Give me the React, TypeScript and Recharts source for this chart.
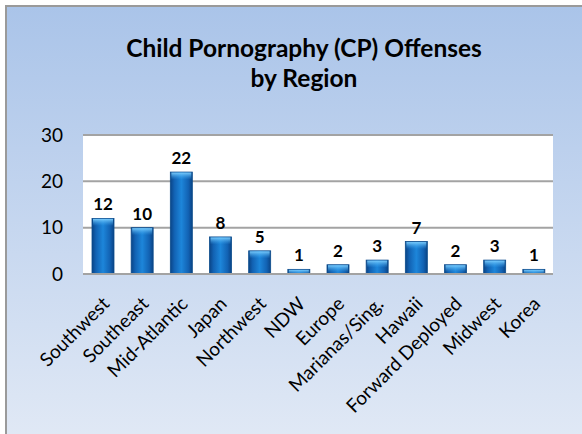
import React from 'react';
import {
  BarChart,
  Bar,
  XAxis,
  YAxis,
  CartesianGrid,
  LabelList,
} from 'recharts';

const regions = [
  'Southwest',
  'Southeast',
  'Mid-Atlantic',
  'Japan',
  'Northwest',
  'NDW',
  'Europe',
  'Marianas/Sing.',
  'Hawaii',
  'Forward Deployed',
  'Midwest',
  'Korea',
];
const offenses = [12, 10, 22, 8, 5, 1, 2, 3, 7, 2, 3, 1];
const yTicks = [0, 10, 20, 30];

const titleLines = ['Child Pornography (CP) Offenses', 'by Region'];

const FONT = 'Lato, "Liberation Sans", sans-serif';

const data = regions.map((region, i) => ({ region, value: offenses[i] }));

function RegionTick(props: any) {
  const { x, y, payload } = props;
  const ax = x + 8;
  const ay = y + 23;
  return (
    <text
      x={ax}
      y={ay}
      transform={`rotate(-45, ${ax}, ${ay})`}
      textAnchor="end"
      fontFamily={FONT}
      fontSize={19}
      fill="#000"
    >
      {payload.value}
    </text>
  );
}

function GlossyBar(props: any) {
  const { x, y, width, height } = props;
  if (!height || height <= 0) return null;
  const cap = Math.min(7, height);
  return (
    <g>
      <rect x={x} y={y} width={width} height={height} fill="url(#barBody)" stroke="#0b4b8c" strokeWidth={0.8} />
      <rect x={x + 1} y={y + 0.5} width={width - 2} height={cap} fill="url(#barCap)" />
    </g>
  );
}

export default function App() {
  return (
    <div style={{ position: 'relative', width: 582, height: 434, overflow: 'hidden' }}>
      <style>{'body{margin:0}'}</style>
      <div
        style={{
          position: 'absolute',
          left: 5,
          top: 5,
          width: 620,
          height: 460,
          border: '2px solid #9a9a9a',
          background: 'linear-gradient(to bottom, #aac4e9 0%, #e4ebf6 100%)',
        }}
      />
      <div
        style={{
          position: 'absolute',
          left: 0,
          top: 33,
          width: 608,
          textAlign: 'center',
          fontFamily: FONT,
          fontWeight: 700,
          fontSize: 24.5,
          lineHeight: '30px',
          color: '#000',
        }}
      >
        {titleLines.map((line) => (
          <div key={line}>{line}</div>
        ))}
      </div>
      <div style={{ position: 'absolute', left: 0, top: 0 }}>
        <BarChart
          width={582}
          height={434}
          data={data}
          margin={{ top: 135, right: 29, bottom: 0, left: 0 }}
        >
          <defs>
            <linearGradient id="barBody" x1="0" y1="0" x2="1" y2="0">
              <stop offset="0%" stopColor="#0a4486" />
              <stop offset="18%" stopColor="#1262b3" />
              <stop offset="50%" stopColor="#1d86da" />
              <stop offset="82%" stopColor="#1262b3" />
              <stop offset="100%" stopColor="#0a4486" />
            </linearGradient>
            <linearGradient id="barCap" x1="0" y1="0" x2="0" y2="1">
              <stop offset="0%" stopColor="#7fd0ff" stopOpacity={0.95} />
              <stop offset="100%" stopColor="#3aa4ee" stopOpacity={0} />
            </linearGradient>
          </defs>
          <CartesianGrid
            vertical={false}
            fill="#ffffff"
            stroke="#a3a3a3"
            strokeWidth={2}
          />
          <XAxis
            dataKey="region"
            interval={0}
            height={160}
            tickLine={false}
            axisLine={{ stroke: '#a3a3a3', strokeWidth: 2 }}
            tick={<RegionTick />}
          />
          <YAxis
            width={83}
            domain={[0, 30]}
            ticks={yTicks}
            axisLine={false}
            tickLine={false}
            tickMargin={14}
            tick={{ fontFamily: FONT, fontSize: 19, fill: '#000' }}
          />
          <Bar
            dataKey="value"
            barSize={22}
            shape={<GlossyBar />}
            isAnimationActive={false}
          >
            <LabelList
              dataKey="value"
              position="top"
              offset={8}
              fontFamily={FONT}
              fontWeight={700}
              fontSize={17}
              fill="#000"
            />
          </Bar>
        </BarChart>
      </div>
    </div>
  );
}
